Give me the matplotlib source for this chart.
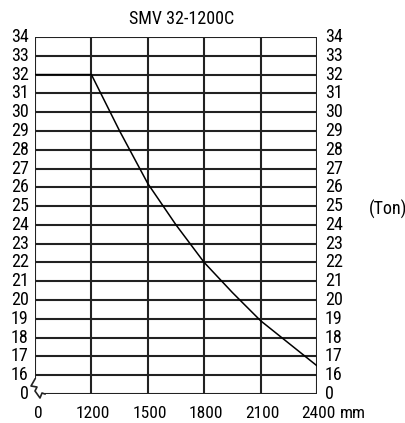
import matplotlib
matplotlib.use("Agg")
import matplotlib.pyplot as plt
from matplotlib import font_manager
import numpy as np

# chart data
title = "SMV 32-1200C"
x_ticks = [0, 1200, 1500, 1800, 2100, 2400]
y_ticks = [0, 16, 17, 18, 19, 20, 21, 22, 23, 24, 25, 26, 27, 28, 29, 30, 31, 32, 33, 34]
stroke_mm = [0, 1200, 1350, 1500, 1650, 1800, 1950, 2100, 2250, 2400]
force_ton = [32, 32, 29.0, 26.2, 24.0, 22.0, 20.4, 18.9, 17.7, 16.5]


def xpos(x):
    # 0..1200 is squeezed into the first column, rest is linear
    x = np.asarray(x, dtype=float)
    return np.where(x <= 1200, x / 1200.0, 1 + (x - 1200) / 300.0)


def ypos(y):
    # 0..16 squeezed into the first row
    y = np.asarray(y, dtype=float)
    return np.where(y <= 16, y / 16.0, y - 15)


# pick a narrow font if one is around
names = {f.name for f in font_manager.fontManager.ttflist}
narrow = None
for cand in ['Liberation Sans Narrow', 'DejaVu Sans Condensed', 'Roboto Condensed']:
    if cand in names:
        narrow = cand
        break
stretch = 'normal'
if narrow is None:
    narrow = 'DejaVu Sans'
    if any(f.name == 'DejaVu Sans' and f.stretch == 'condensed' for f in font_manager.fontManager.ttflist):
        stretch = 'condensed'

plt.rcParams['font.family'] = [narrow]
fig = plt.figure(figsize=(4.06, 4.23), dpi=100)
ax = fig.add_axes([35 / 406, 29 / 423, 282 / 406, 357 / 423])

xp = xpos(x_ticks)
yp = ypos(y_ticks)
xmax, ymax = xp[-1], yp[-1]
lw = 1.5
col = '#222222'

# grid
for v in yp[1:]:
    ax.plot([0, xmax], [v, v], color=col, lw=lw, solid_capstyle='butt')
for u in xp[1:]:
    ax.plot([u, u], [0, ymax], color=col, lw=lw, solid_capstyle='butt')

# left edge and bottom with the axis break symbol
ax.plot([0, 0], [ymax, 0.8], color=col, lw=lw, solid_capstyle='butt')
brk_x = np.array([0, -4, 2, 0, 5, 7, 10]) / 56.4
brk_y = np.array([15, 8, 7, 3, -4, 1, 0]) / 18.8
ax.plot(brk_x, brk_y, color=col, lw=1.2, clip_on=False)
ax.plot([10 / 56.4, xmax], [0, 0], color=col, lw=lw, solid_capstyle='butt')

# curve
ax.plot(xpos(stroke_mm), ypos(force_ton), color='black', lw=1.1)

ax.set_xlim(0, xmax)
ax.set_ylim(0, ymax)
ax.axis('off')

fs = 13
kw = dict(fontsize=fs, fontstretch=stretch)
for v, lab in zip(yp, y_ticks):
    ax.text(-0.11, v, str(lab), ha='right', va='center', **kw)
    ax.text(xmax + 0.14, v, str(lab), ha='left', va='center', **kw)
kx = dict(fontsize=12.5, fontstretch=stretch)
for u, lab in zip(xp, x_ticks):
    ax.text(u + (0.06 if lab == 0 else 0.03), -1.02, str(lab), ha='center', va='center', **kx)
ax.text(xmax + 0.4, -1.02, "mm", ha='left', va='center', **kx)
ax.text(xmax + 1.26, ypos(24.8), "(Ton)", ha='center', va='center', **kw)
ax.text(2.6, ymax + 0.95, title, ha='center', va='center', **kw)

fig.savefig('out.png', dpi=100)
